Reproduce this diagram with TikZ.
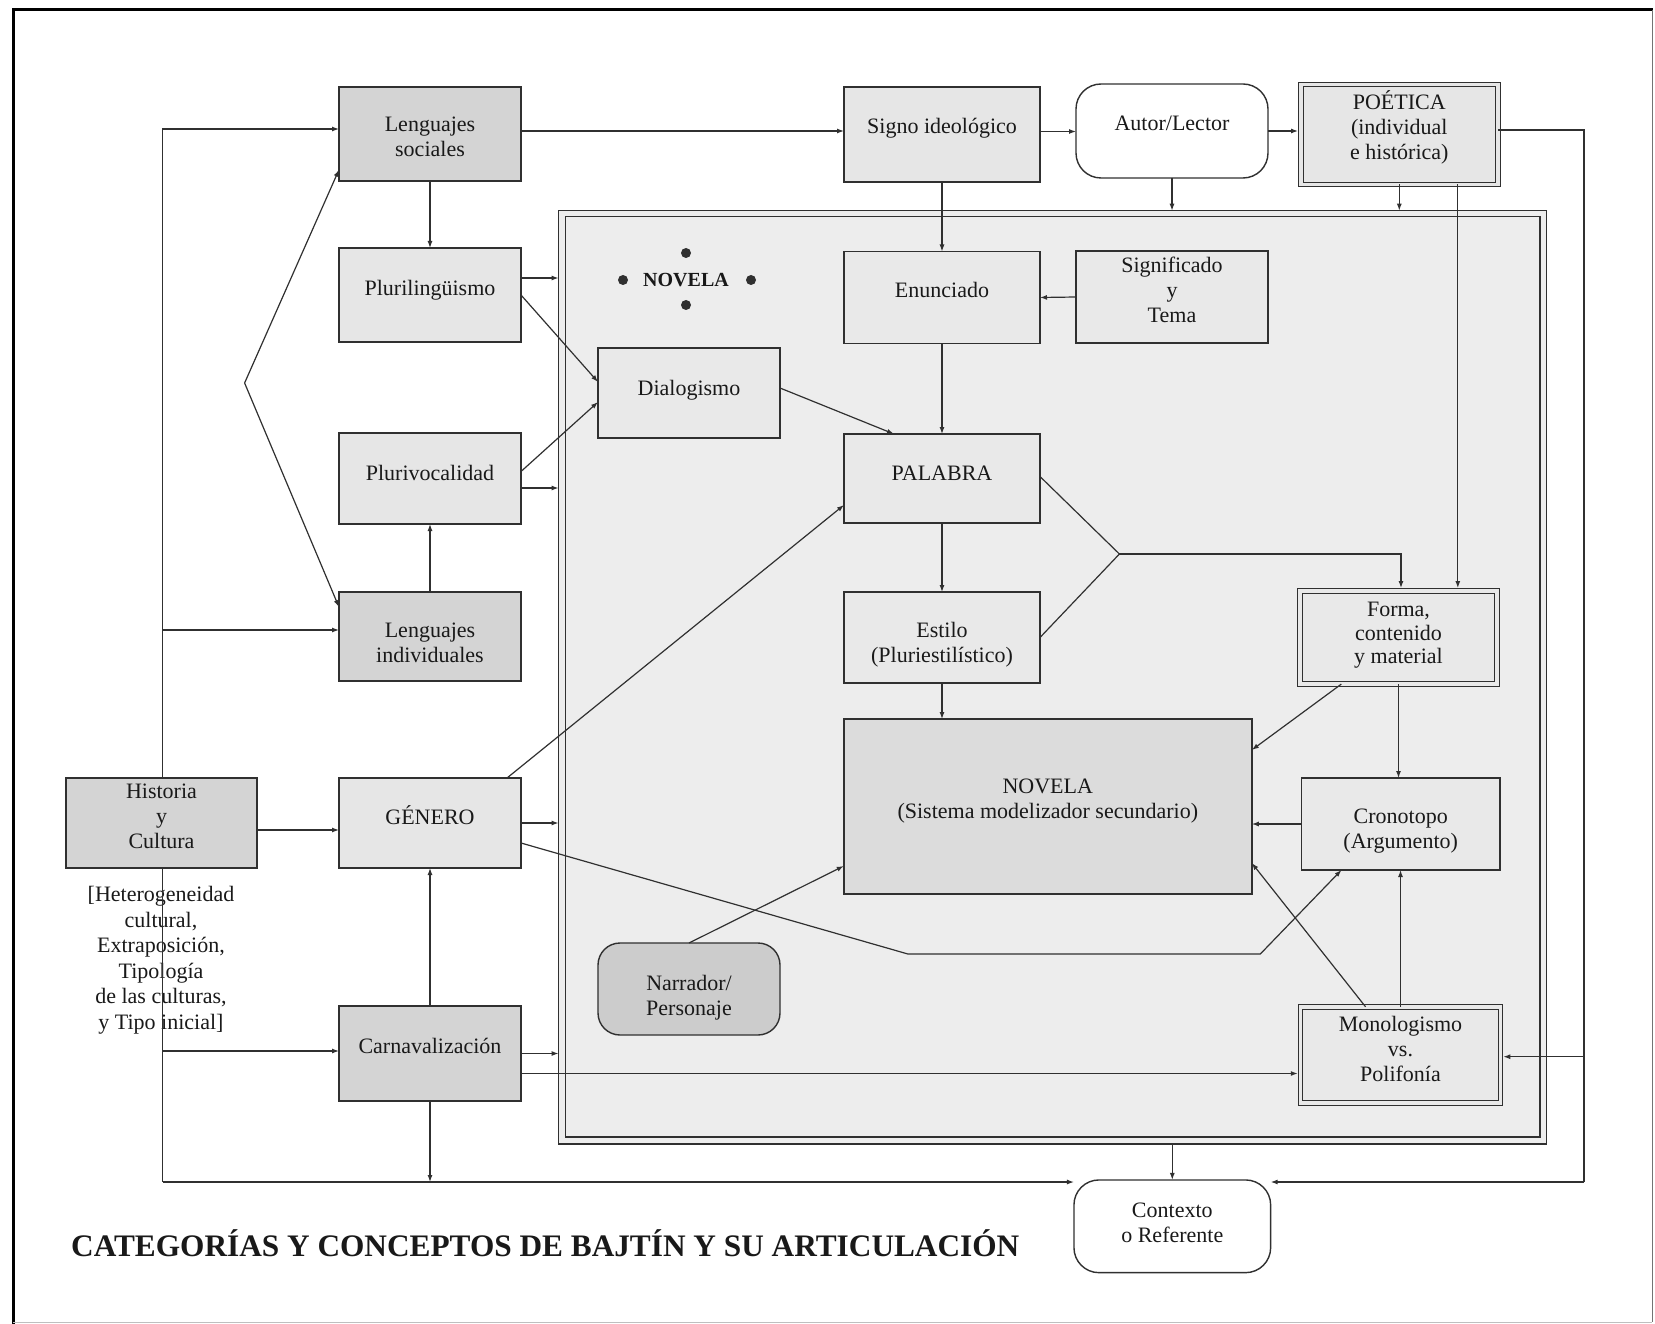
\documentclass[tikz,border=0pt]{standalone}
\usepackage{fontspec}
\setmainfont{Liberation Serif}
\usetikzlibrary{arrows.meta,calc}

\definecolor{lnc}{HTML}{303030}
\definecolor{dk}{HTML}{D4D4D4}
\definecolor{lt}{HTML}{E6E6E6}
\definecolor{bg}{HTML}{EDEDED}
\definecolor{inb}{HTML}{E9E9E9}
\definecolor{nov}{HTML}{DCDCDC}
\definecolor{nar}{HTML}{CCCCCC}

\tikzset{
 box/.style={draw=lnc, line width=1.4pt, inner sep=0pt, outer sep=0pt},
 lb/.style={font=\fontsize{22}{25}\selectfont, align=center, text=black!90, inner sep=0pt},
 txt/.style 2 args={label={[lb, yshift=#1]center:{#2}}},
 dkbox/.style={box, fill=dk},
 ltbox/.style={box, fill=lt},
 inbox/.style={box, fill=inb},
 rbox/.style={box, rounded corners=25pt, fill=white},
 dbox/.style={box, fill=inb, double=inb, double distance=3.5pt, line width=1.1pt},
 arr/.style={draw=lnc, line width=1.2pt, -{Latex[length=7pt,width=5pt]}},
 ln/.style={draw=lnc, line width=1.2pt},
 dot/.style={circle, fill=lnc, inner sep=0pt, minimum size=10pt},
}

\begin{document}
\begin{tikzpicture}[x=1pt,y=-1pt]
\useasboundingbox (0,0) rectangle (1655,1324);
\fill[white] (0,0) rectangle (1655,1324);

% outer frame
\draw[line width=3pt, black] (13,1324) -- (13,10) -- (1653,10);
\draw[line width=0.8pt, black!55] (1652,10) -- (1652,1322);
\draw[line width=0.8pt, black!25] (13,1322) -- (1652,1322);

% inner NOVELA frame (double line)
\node[draw=lnc, line width=1.3pt, fill=bg, inner sep=0pt, outer sep=0pt,
      minimum width=987.9pt, minimum height=933.3pt] (FR) at (1052.55,677.35) {};
\node[draw=lnc, line width=1.1pt, inner sep=0pt, outer sep=0pt,
      minimum width=974.3pt, minimum height=920.3pt] (FI) at (1052.85,676.85) {};

% left column
\node[dkbox, minimum width=182pt, minimum height=94pt, txt={-3pt}{Lenguajes\\sociales}] (LS) at (430,134) {};
\node[ltbox, minimum width=182pt, minimum height=94pt, txt={5pt}{Plurilingüismo}] (PL) at (430,295) {};
\node[ltbox, minimum width=182pt, minimum height=91pt, txt={6pt}{Plurivocalidad}] (PV) at (430,478.5) {};
\node[dkbox, minimum width=182pt, minimum height=89pt, txt={-6pt}{Lenguajes\\individuales}] (LI) at (430,636.5) {};
\node[ltbox, minimum width=182pt, minimum height=90pt, txt={8pt}{GÉNERO}] (GE) at (430,823) {};
\node[dkbox, minimum width=182pt, minimum height=95pt, txt={8pt}{Carnavalización}] (CA) at (430,1053.5) {};
\node[dkbox, minimum width=191pt, minimum height=90pt, txt={7pt}{Historia\\y\\Cultura}] (HC) at (161.5,823) {};
\node[lb, font=\fontsize{22}{25.5}\selectfont] (HT) at (161,960)
  {[Heterogeneidad\\cultural,\\Extraposición,\\Tipología\\de las culturas,\\y Tipo inicial]};

% top row
\node[ltbox, minimum width=196pt, minimum height=95pt, txt={6pt}{Signo ideológico}] (SI) at (942,134.5) {};
\node[rbox, minimum width=192pt, minimum height=94pt, txt={8pt}{Autor/Lector}] (AL) at (1172,131) {};
\node[dbox, fill=lt, double=lt, minimum width=196.9pt, minimum height=99.9pt,
      txt={7pt}{POÉTICA\\(individual\\e histórica)}] (PO) at (1399.3,134.5) {};

% inside the frame
\node[font=\bfseries\fontsize{20}{24}\selectfont, inner sep=0pt, text=black!90] (NL) at (686,280) {NOVELA};
\node[dot] (d1) at (686,253) {};
\node[dot] (d2) at (686,305) {};
\node[dot] (d3) at (623,280) {};
\node[dot] (d4) at (751,280) {};

\node[inbox, minimum width=196pt, minimum height=92pt, txt={8pt}{Enunciado}] (EN) at (942,297.5) {};
\node[inbox, minimum width=192pt, minimum height=92pt, txt={7pt}{Significado\\y\\Tema}] (SG) at (1172,297) {};
\node[inbox, minimum width=182pt, minimum height=90pt, txt={3pt}{Dialogismo}] (DI) at (689,393) {};
\node[inbox, minimum width=196pt, minimum height=89pt, txt={5pt}{PALABRA}] (PA) at (942,478.5) {};
\node[inbox, minimum width=196pt, minimum height=91pt, txt={-7pt}{Estilo\\(Pluriestilístico)}] (ES) at (942,637.5) {};
\node[dbox, minimum width=197.3pt, minimum height=93.3pt,
      label={[lb, font=\fontsize{22}{23.5}\selectfont, yshift=2pt]center:{Forma,\\contenido\\y material}}] (FO) at (1398.5,637.5) {};
\node[box, fill=nov, minimum width=408pt, minimum height=175pt,
      txt={5pt}{NOVELA\\(Sistema modelizador secundario)}] (NV) at (1047.8,806.5) {};
\node[inbox, minimum width=198.5pt, minimum height=92pt, txt={-7pt}{Cronotopo\\(Argumento)}] (CR) at (1400.7,824) {};
\node[dbox, minimum width=199.9pt, minimum height=96pt, txt={6pt}{Monologismo\\vs.\\Polifonía}] (MO) at (1400.5,1054.8) {};
\node[box, fill=nar, rounded corners=22pt, minimum width=182pt, minimum height=92pt,
      txt={-9pt}{Narrador/\\Personaje}] (NA) at (689,989) {};

% bottom
\node[rbox, minimum width=196.7pt, minimum height=92.7pt, txt={3pt}{Contexto\\o Referente}] (CT) at (1172.3,1226.3) {};
\node[anchor=base west, inner sep=0pt, font=\bfseries\fontsize{31.3}{36}\selectfont, text=black!90] (TT)
  at (71,1256.7) {CATEGORÍAS Y CONCEPTOS DE BAJTÍN Y SU ARTICULACIÓN};

% coordinates
\coordinate (T1) at (162.5,129);
\coordinate (T2) at (162.5,630);
\coordinate (T3) at (162.5,1051);
\coordinate (TB) at (162.5,1182);
\coordinate (V)  at (244.6,383);
\coordinate (R1) at (1584,130);
\coordinate (R2) at (1584,1182);
\coordinate (R3) at (1584,1056.7);
\coordinate (G1) at (907.9,954);
\coordinate (G2) at (1260.3,954);
\coordinate (J)  at (1119.4,554);
\coordinate (J2) at (1401,554);

% left trunk
\draw[arr] (HC.north -| T1) -- (T1) -- (LS.west |- T1);
\draw[arr] (T2) -- (LI.west |- T2);
\draw[ln] (HC.south -| TB) -- (TB);
\draw[arr] (TB) -- (CT.west |- TB);
\draw[arr] (T3) -- (CA.west |- T3);
\draw[arr] (CA.south) -- (CA.south |- TB);
\draw[arr] (V) -- ($(LS.south west)!0.12!(LS.north west)$);
\draw[arr] (V) -- ($(LI.north west)!0.17!(LI.south west)$);

% left column links
\draw[arr] (LS.south) -- (PL.north);
\draw[arr] (LI.north) -- (PV.south);
\draw[arr] (CA.north) -- (GE.south);
\draw[arr] ([yshift=-7pt]HC.east) -- ([yshift=-7pt]GE.west);

% top row
\draw[arr] ([yshift=3pt]LS.east) -- ([yshift=3pt]LS.east -| SI.west);
\draw[arr] ([yshift=3pt]SI.east) -- ([yshift=3pt]SI.east -| AL.west);
\draw[arr, shorten >=2.8pt] (AL.east) -- (AL.east -| PO.west);
\draw[arr] (AL.south) -- (AL.south |- FR.north);
\draw[arr] (PO.south) -- (PO.south |- FR.north);
\draw[arr, shorten >=2.8pt] ([xshift=58.5pt]PO.south) -- ([xshift=58.5pt]PO.south |- FO.north);
\draw[ln] (PO.east |- R1) -- (R1) -- (R2);
\draw[arr] (R2) -- (CT.east |- R2);
\draw[arr, shorten >=2.8pt] (R3) -- (MO.east |- R3);

% into the frame
\draw[arr] ([yshift=17pt]PL.east) -- ([yshift=17pt]PL.east -| FR.west);
\draw[arr] ([yshift=-9.5pt]PV.east) -- ([yshift=-9.5pt]PV.east -| FR.west);
\draw[arr] (GE.east) -- (GE.east -| FR.west);
\draw[arr] (CA.east) -- (CA.east -| FR.west);
\draw[arr, shorten >=2.8pt] ([yshift=-20pt]CA.east) -- ([yshift=-20pt]CA.east -| MO.west);

\draw[arr] (PL.east) -- ($(DI.west)+(0,-11)$);
\draw[arr] ([yshift=7pt]PV.east) -- ($(DI.west)+(0,9)$);
\draw[arr] ([yshift=5pt]DI.east) -- ($(PA.north west)+(50,0)$);
\draw[arr] ($(GE.north east)+(-14,0)$) -- ($(PA.south west)+(0,-18)$);
\draw[arr] ([yshift=-20pt]GE.east) -- (G1) -- (G2) -- ($(CR.south west)+(40,0)$);
\draw[arr] (NA.north) -- ($(NV.south west)+(0,-28)$);

% middle column
\draw[arr] (SI.south) -- (EN.north);
\draw[arr] (SG.west) -- (EN.east);
\draw[arr] (EN.south) -- (PA.north);
\draw[arr] (PA.south) -- (ES.north);
\draw[arr] (ES.south) -- (ES.south |- NV.north);
\draw[ln] ([yshift=2pt]PA.east) -- (J);
\draw[ln] (ES.east) -- (J);
\draw[arr, shorten >=2.8pt] (J) -- (J2) -- (J2 |- FO.north);

% right column
\draw[arr] ($(FO.south west)!0.21!(FO.south east)$) -- ($(NV.north east)+(0,31)$);
\draw[arr] (FO.south) -- (FO.south |- CR.north);
\draw[arr] (CR.west) -- (CR.west -| NV.east);
\draw[arr] ($(MO.north west)+(65,0)$) -- ($(NV.south east)+(0,-31)$);
\draw[arr] (MO.north) -- (MO.north |- CR.south);
\draw[arr] (FR.south -| CT.north) -- (CT.north);
\end{tikzpicture}
\end{document}
